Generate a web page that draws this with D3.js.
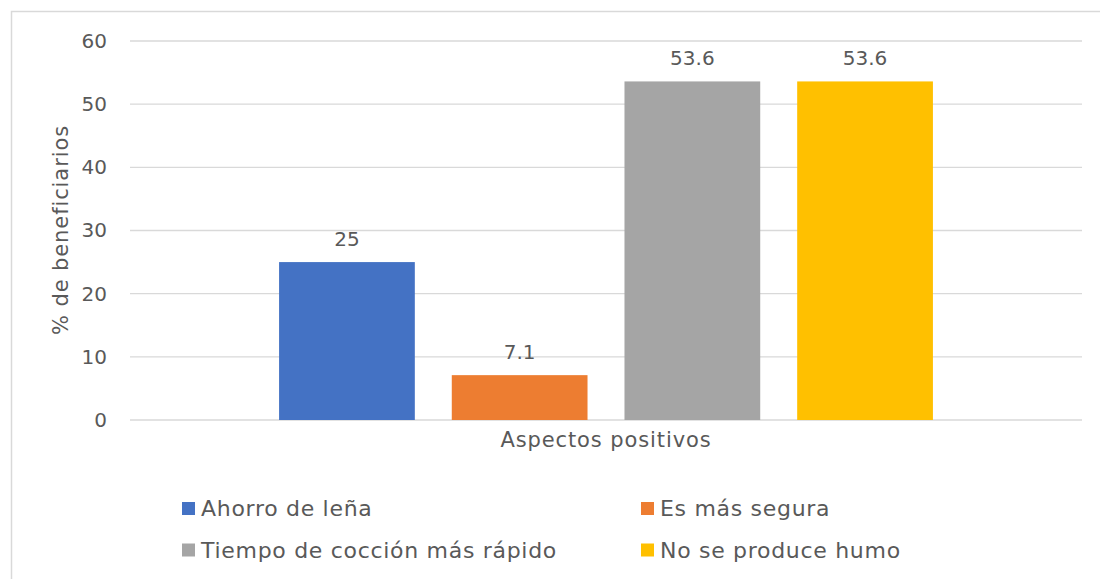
<!DOCTYPE html>
<html>
<head>
<meta charset="utf-8">
<script src="https://cdn.jsdelivr.net/npm/d3@7"></script>
<style>
  body { margin: 0; background: #fff; }
  svg text { font-family: "DejaVu Sans", sans-serif; fill: #595959; }
</style>
</head>
<body>
<div id="chart"></div>
<script>
// Data
const categories = ["Ahorro de leña", "Es más segura", "Tiempo de cocción más rápido", "No se produce humo"];
const values = [25, 7.1, 53.6, 53.6];
const colors = ["#4472c4", "#ed7d31", "#a5a5a5", "#ffc000"];
const yTicks = [0, 10, 20, 30, 40, 50, 60];
const groupLabel = "Aspectos positivos";

const W = 1100, H = 579;
const margin = { top: 41, right: 18, bottom: 159, left: 130 };
const width = W - margin.left - margin.right;
const height = H - margin.top - margin.bottom;

const svg = d3.select("#chart").append("svg")
    .attr("width", W)
    .attr("height", H);

// chart border
svg.append("rect")
    .attr("x", 11.5).attr("y", 11.5)
    .attr("width", W).attr("height", H)
    .attr("fill", "none")
    .attr("stroke", "#d9d9d9")
    .attr("stroke-width", 1.5);

const g = svg.append("g").attr("transform", `translate(${margin.left},${margin.top})`);

// Scales
const y = d3.scaleLinear().domain([0, 60]).range([height, 0]);
const x0 = d3.scaleBand().domain([groupLabel]).range([0, width]).paddingInner(0).paddingOuter(0.228);
const x1 = d3.scaleBand().domain(categories).range([0, x0.bandwidth()]).paddingInner(0.214);

// Gridlines
g.append("g")
    .selectAll("line")
    .data(yTicks)
    .enter().append("line")
    .attr("x1", 0).attr("x2", width)
    .attr("y1", d => y(d)).attr("y2", d => y(d))
    .attr("stroke", "#d9d9d9")
    .attr("stroke-width", 1.3);

// Y axis labels
const yAxis = g.append("g")
    .call(d3.axisLeft(y).tickValues(yTicks).tickSize(0).tickPadding(23));
yAxis.select(".domain").remove();
yAxis.selectAll("text")
    .style("font-size", "20px")
    .style("font-family", "'DejaVu Sans', sans-serif")
    .attr("fill", "#595959");

// Bars
const bars = g.append("g").attr("transform", `translate(${x0(groupLabel)},0)`);
bars.selectAll("rect")
    .data(categories)
    .enter().append("rect")
    .attr("x", d => x1(d))
    .attr("y", (d, i) => y(values[i]))
    .attr("width", x1.bandwidth())
    .attr("height", (d, i) => height - y(values[i]))
    .attr("fill", (d, i) => colors[i]);

// Value labels
bars.selectAll(".val")
    .data(categories)
    .enter().append("text")
    .attr("class", "val")
    .attr("x", d => x1(d) + x1.bandwidth() / 2)
    .attr("y", (d, i) => y(values[i]) - 16)
    .attr("text-anchor", "middle")
    .style("font-size", "20px")
    .text((d, i) => values[i]);

// X axis category label
g.append("text")
    .attr("x", x0(groupLabel) + x0.bandwidth() / 2)
    .attr("y", height + 27)
    .attr("text-anchor", "middle")
    .style("font-size", "21px")
    .style("letter-spacing", "0.9px")
    .text(groupLabel);

// Y axis title
svg.append("text")
    .attr("transform", `translate(68,${margin.top + 189}) rotate(-90)`)
    .attr("text-anchor", "middle")
    .style("font-size", "21px")
    .style("letter-spacing", "0.9px")
    .text("% de beneficiarios");

// Legend
const legendX = [182, 641];
const legendY = [508.5, 550];
const legend = svg.append("g").selectAll("g")
    .data(categories)
    .enter().append("g")
    .attr("transform", (d, i) => `translate(${legendX[i % 2]},${legendY[Math.floor(i / 2)]})`);
legend.append("rect")
    .attr("x", 0).attr("y", -6.5)
    .attr("width", 13).attr("height", 13)
    .attr("fill", (d, i) => colors[i]);
legend.append("text")
    .attr("x", 19)
    .attr("y", 7.5)
    .style("font-size", "22px")
    .style("letter-spacing", "0.7px")
    .text(d => d);
</script>
</body>
</html>
